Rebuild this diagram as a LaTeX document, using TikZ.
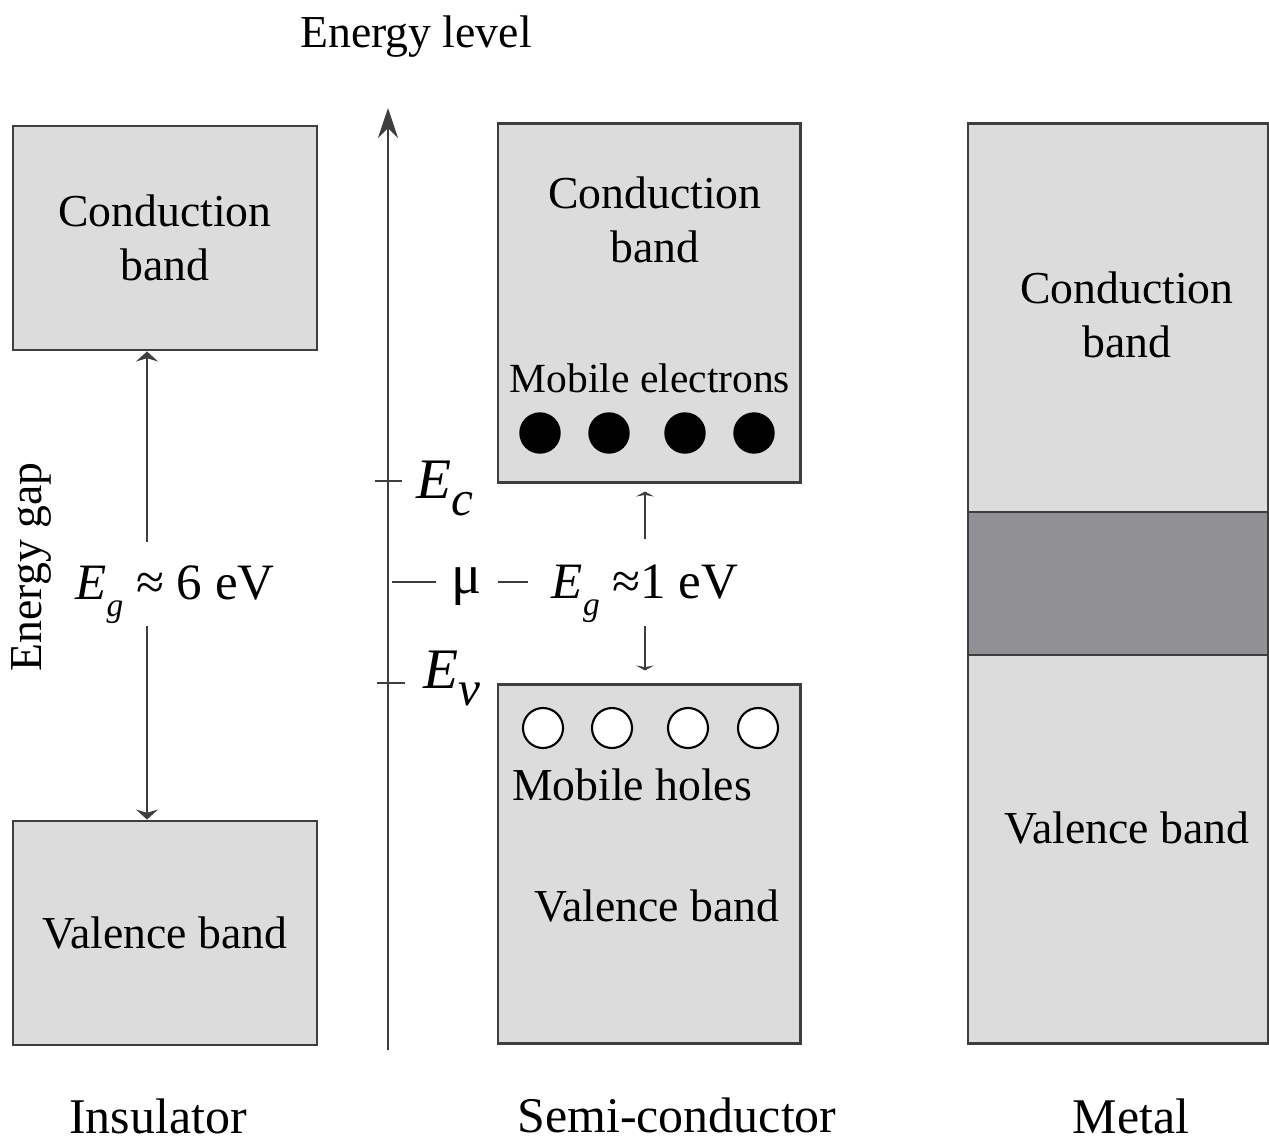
\documentclass[tikz,border=0pt]{standalone}
\usepackage{fontspec}
\setmainfont{Liberation Serif}
\usetikzlibrary{arrows.meta, positioning}
\definecolor{bandgray}{RGB}{220, 220, 220}
\definecolor{overlapgray}{RGB}{145, 144, 149}
\definecolor{edgegray}{RGB}{62, 62, 62}
\newcommand{\Elevel}[1]{\textit{E}\raisebox{-0.3em}{\fontsize{14}{14}\selectfont\textit{#1}}}
\newcommand{\Egap}{\textit{E}\raisebox{-0.35em}{\fontsize{9.5}{9.5}\selectfont\textit{g}}}
\tikzset{
  >=Stealth,
  gaparrow/.style={-{Stealth[length=1mm, width=2.2mm]}, line width=0.6pt, edgegray},
  gaparrow_short/.style={-{Stealth[length=0.5mm, width=1.8mm]}, line width=0.6pt, edgegray},
  axisarrow/.style={-{Stealth[length=3mm, width=2mm]}, line width=0.7pt, edgegray}
}

\begin{document}
\begin{tikzpicture}[x=0.01cm, y=-0.01cm,
    bandbox/.style={rectangle, draw=edgegray, fill=bandgray, line width=0.8pt, align=center, font=\fontsize{13}{15.4}\selectfont},
    overlapbox/.style={rectangle, draw=edgegray, fill=overlapgray, line width=0.8pt},
    bandtext/.style={align=center, font=\fontsize{13}{15.4}\selectfont},
    mobiletext/.style={font=\fontsize{11.8}{14}\selectfont},
    electron/.style={circle, draw=black, fill=black, minimum size=0.4cm, inner sep=0pt},
    hole/.style={circle, draw=black, fill=white, line width=0.6pt, minimum size=0.4cm, inner sep=0pt},
    gaptext/.style={font=\fontsize{14.5}{16}\selectfont, inner sep=0pt, anchor=base},
    leveltext/.style={font=\fontsize{16.3}{18}\selectfont, inner sep=0pt},
    titletext/.style={font=\fontsize{14.2}{16}\selectfont, inner sep=0pt}
]
    \useasboundingbox (0, 0) rectangle (1269, 1142);

    % Insulator: two bands, wide gap
    \node[bandbox, minimum width=3.04cm, minimum height=2.24cm] (ins_cb) at (165, 238) {Conduction\\band};
    \node[bandbox, minimum width=3.04cm, minimum height=2.24cm] (ins_vb) at (165, 933) {Valence band};
    \node[gaptext, text height=0.56cm, text depth=0.26cm] (eg_ins) at (175, 599) {\Egap\ ≈ 6 eV};
    \coordinate (gap_ins) at (147, 584);
    \draw[gaparrow] (gap_ins |- eg_ins.north) -- (gap_ins |- ins_cb.south);
    \draw[gaparrow] (gap_ins |- eg_ins.south) -- (gap_ins |- ins_vb.north);
    \node[rotate=90, font=\fontsize{13}{15}\selectfont, inner sep=0pt] (gap_label) at (31, 567) {Energy gap};

    % Energy axis with levels
    \coordinate (ax_bot) at (388, 1050);
    \coordinate (ax_top) at (388, 108);
    \draw[axisarrow] (ax_bot) -- (ax_top);
    \node[font=\fontsize{13}{15}\selectfont, inner sep=0pt, anchor=base] (axis_title) at (416, 47) {Energy level};
    \draw[edgegray, line width=0.6pt] (375, 481) -- (402, 481);
    \draw[edgegray, line width=0.6pt] (377, 683) -- (405, 683);
    \node[leveltext, anchor=base west] (ec) at (416, 498) {\Elevel{c}};
    \node[leveltext, anchor=base west] (ev) at (423, 688) {\Elevel{v}};

    % Semi-conductor: narrow gap, mobile carriers
    \node[bandbox, minimum width=3.02cm, minimum height=3.58cm] (sc_cb) at (649, 303) {};
    \node[bandbox, minimum width=3.02cm, minimum height=3.58cm] (sc_vb) at (649, 864) {};
    \node[bandtext] (sc_cb_text) at (655, 220) {Conduction\\band};
    \node[mobiletext] (sc_el_text) at (650, 378) {Mobile electrons};
    \foreach \ex [count=\i] in {540, 609, 685, 754}
        \node[electron] (el\i) at (\ex, 433) {};
    \foreach \hx [count=\i] in {543, 612, 688, 758}
        \node[hole] (ho\i) at (\hx, 728) {};
    \node[bandtext] (sc_ho_text) at (632, 785) {Mobile holes};
    \node[bandtext] (sc_vb_text) at (657, 906) {Valence band};

    \node[gaptext, text height=0.58cm, text depth=0.27cm, inner xsep=0.23cm] (eg_sc) at (645, 598) {\Egap\ ≈1 eV};
    \draw[gaparrow_short] (eg_sc.north) -- ([yshift=-0.08cm]sc_cb.south -| eg_sc.north);
    \draw[gaparrow_short] (eg_sc.south) -- ([yshift=0.13cm]sc_vb.north -| eg_sc.south);

    % chemical potential
    \coordinate (mu_ax) at (392, 582);
    \node[font=\fontsize{16}{18}\selectfont, minimum width=0.61cm, inner sep=0pt, anchor=base] (mu) at (467, 593) {μ};
    \draw[edgegray, line width=0.6pt] (mu_ax) -- (mu_ax -| mu.west);
    \draw[edgegray, line width=0.6pt] (mu_ax -| mu.east) -- (mu_ax -| eg_sc.west);

    % Metal: bands overlap
    \node[bandbox, minimum width=3.0cm, minimum height=9.19cm] (met) at (1118, 583.5) {};
    \node[overlapbox, minimum width=3.0cm, minimum height=1.43cm] (met_ov) at (1118, 583.5) {};
    \node[bandtext] (met_cb_text) at (1127, 315) {Conduction\\band};
    \node[bandtext] (met_vb_text) at (1127, 828) {Valence band};

    % Material names
    \node[titletext, anchor=base] (ins_name) at (158, 1133) {Insulator};
    \node[titletext, anchor=base] (sc_name) at (677, 1132) {Semi-conductor};
    \node[titletext, anchor=base] (met_name) at (1131, 1133) {Metal};
\end{tikzpicture}
\end{document}
